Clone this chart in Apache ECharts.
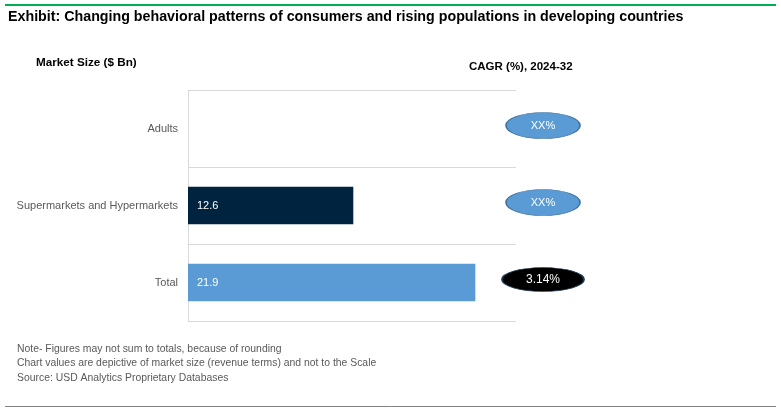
<!DOCTYPE html>
<html><head><meta charset="utf-8">
<script src="https://cdn.jsdelivr.net/npm/echarts@6/dist/echarts.min.js"></script>
<style>html,body{margin:0;padding:0;background:#fff}#c{width:781px;height:415px}</style>
</head><body><div id="c"></div>
<script>
const categories = ['Adults', 'Supermarkets and Hypermarkets', 'Total'];
const marketSize = [null, 12.6, 21.9];
const barColors = ['#5B9BD5', '#002440', '#5B9BD5'];
const cagrLabels = ['XX%', 'XX%', '3.14%'];
const cagrFill = ['#5B9BD5', '#5B9BD5', '#000000'];
const cagrBorder = ['#41719C', '#41719C', '#1F3A5A'];
const cagrSize = [[74, 26], [74, 26], [82, 24]];
const notes = [
  'Note- Figures may not sum to totals, because of rounding',
  'Chart values are depictive of market size (revenue terms) and not to the Scale',
  'Source: USD Analytics Proprietary Databases'
];
const FONT = '"Liberation Sans", Arial, sans-serif';
const chart = echarts.init(document.getElementById('c'));
chart.setOption({
  animation: false,
  backgroundColor: '#fff',
  graphic: [
    {type: 'line', shape: {x1: 5, y1: 5, x2: 776, y2: 5}, style: {stroke: '#00B050', lineWidth: 2}},
    {type: 'text', left: 8, top: 10, style: {text: 'Exhibit: Changing behavioral patterns of consumers and rising populations in developing countries', font: 'bold 14.25px ' + FONT, fill: '#000'}},
    {type: 'text', left: 36, top: 57, style: {text: 'Market Size ($ Bn)', font: 'bold 11.7px ' + FONT, fill: '#000'}},
    {type: 'text', left: 469, top: 61, style: {text: 'CAGR (%), 2024-32', font: 'bold 11.5px ' + FONT, fill: '#000'}},
    {type: 'text', left: 17, top: 344, style: {text: notes[0], font: '10.4px ' + FONT, fill: '#595959'}},
    {type: 'text', left: 17, top: 358, style: {text: notes[1], font: '10.4px ' + FONT, fill: '#595959'}},
    {type: 'text', left: 17, top: 373, style: {text: notes[2], font: '10.4px ' + FONT, fill: '#595959'}},
    {type: 'line', shape: {x1: 5, y1: 406.5, x2: 776, y2: 406.5}, style: {stroke: '#808080', lineWidth: 1}}
  ],
  grid: [
    {left: 188, top: 90, width: 328, height: 231},
    {left: 498, top: 90, width: 90, height: 231}
  ],
  xAxis: [
    {gridIndex: 0, type: 'value', min: 0, max: 25, show: false},
    {gridIndex: 1, type: 'value', min: 0, max: 1, show: false}
  ],
  yAxis: [
    {gridIndex: 0, type: 'category', data: categories, inverse: true,
     axisLine: {show: true, lineStyle: {color: '#d9d9d9'}}, axisTick: {show: false},
     axisLabel: {color: '#595959', fontSize: 11, fontFamily: FONT, margin: 10},
     splitLine: {show: true, lineStyle: {color: '#d9d9d9'}}},
    {gridIndex: 1, type: 'category', data: categories, inverse: true, show: false}
  ],
  series: [
    {type: 'bar', xAxisIndex: 0, yAxisIndex: 0, barWidth: '49%',
     data: marketSize.map((v, i) => ({value: v, itemStyle: {color: barColors[i]}})),
     label: {show: true, position: 'insideLeft', distance: 9, color: '#fff', fontSize: 11, fontFamily: FONT}},
    {type: 'scatter', xAxisIndex: 1, yAxisIndex: 1, symbol: 'circle',
     data: cagrLabels.map((t, i) => ({value: [0.5, categories[i]], symbolSize: cagrSize[i], symbolOffset: [0, -3],
       itemStyle: {color: cagrFill[i], borderColor: cagrBorder[i], borderWidth: 1, opacity: 1},
       label: {show: true, formatter: t, position: 'inside', color: '#fff', fontSize: i === 2 ? 12 : 11, fontFamily: FONT}}))}
  ]
});
</script></body></html>
